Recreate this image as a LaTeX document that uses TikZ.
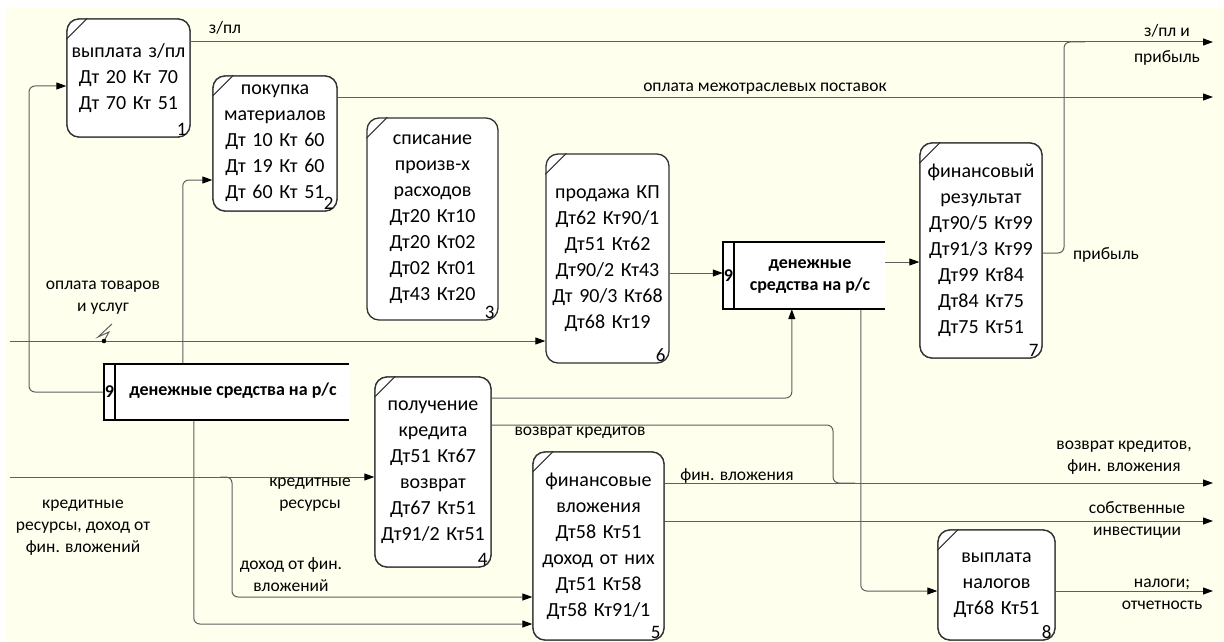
\documentclass[tikz,border=0pt]{standalone}
\usepackage{fontspec}
\setmainfont{Carlito}
\usetikzlibrary{arrows.meta,calc}
\definecolor{bgc}{RGB}{255,255,238}
\definecolor{linec}{RGB}{95,95,95}
\definecolor{boxc}{RGB}{50,50,50}
\begin{document}
\begin{tikzpicture}[x=1pt,y=-1pt,
 box/.style={draw=boxc,line width=1.3pt,rounded corners=12pt,fill=white,inner sep=0pt,align=center,font=\fontsize{20}{26}\selectfont},
 conn/.style={draw=linec,line width=1pt,rounded corners=6pt},
 arr/.style={conn,-{Triangle[length=10pt,width=7pt,color=black]}},
 lbl/.style={font=\fontsize{17.5}{22}\selectfont,align=center,inner sep=0pt},
 num/.style={font=\fontsize{19}{20}\selectfont,inner sep=0pt,anchor=south east},
 diag/.style={draw=boxc,line width=1.1pt},
 mbox/.style={draw=black,line width=1.5pt},
 mtxt/.style={font=\fontsize{18}{22}\selectfont\bfseries,align=center,inner sep=0pt}]
\useasboundingbox (0,0) rectangle (1224,642);
\fill[white] (0,0) rectangle (1224,642);
\fill[bgc] (5,7) rectangle (1224,642);

% process boxes
\node[box,text width=123pt,minimum height=118pt] (b1) at (128.5,78) {выплата з/пл\\Дт 20 Кт 70\\Дт 70 Кт 51};
\node[box,text width=124pt,minimum height=135pt] (b2) at (275,143.5) {покупка\\материалов\\Дт 10 Кт 60\\Дт 19 Кт 60\\Дт 60 Кт 51};
\node[box,text width=131pt,minimum height=202pt] (b3) at (432.5,219) {списание\\произв-х\\расходов\\Дт20 Кт10\\Дт20 Кт02\\Дт02 Кт01\\Дт43 Кт20};
\node[box,text width=123pt,minimum height=209pt] (b6) at (607.5,258.5) {продажа КП\\Дт62 Кт90/1\\Дт51 Кт62\\Дт90/2 Кт43\\Дт 90/3 Кт68\\Дт68 Кт19};
\node[box,text width=122pt,minimum height=215pt] (b7) at (981,250.5) {финансовый\\результат\\Дт90/5 Кт99\\Дт91/3 Кт99\\Дт99 Кт84\\Дт84 Кт75\\Дт75 Кт51};
\node[box,text width=116pt,minimum height=190pt] (b4) at (433,472) {получение\\кредита\\Дт51 Кт67\\возврат\\Дт67 Кт51\\Дт91/2 Кт51};
\node[box,text width=131pt,minimum height=188pt] (b5) at (598.5,546) {финансовые\\вложения\\Дт58 Кт51\\доход от них\\Дт51 Кт58\\Дт58 Кт91/1};
\node[box,text width=117pt,minimum height=110pt] (b8) at (996.5,585) {выплата\\налогов\\Дт68 Кт51};

% money boxes
\node[minimum width=245pt,minimum height=56pt,inner sep=0pt] (m1) at (226.5,392) {};
\node[minimum width=162pt,minimum height=67pt,inner sep=0pt] (m2) at (804,275.5) {};

% free ends
\coordinate (o1) at (1213,42);
\coordinate (o2) at (1213,97);
\coordinate (o3) at (1213,483);
\coordinate (o4) at (1213,521);
\coordinate (o5) at (1213,591);
\coordinate (i1) at (10,341);
\coordinate (i2) at (10,477);

% connectors
\draw[arr] (b1.east |- o1) -- (o1);
\draw[conn] (b7.east |- 0,253) -- (1064,253) -- (1064,42) -- (1085,42);
\draw[arr] (b2.east |- o2) -- (o2);
\draw[arr] (m1.west) -- (29,392) -- (29,86) -- (b1.west |- 0,86);
\draw[arr] ([xshift=79pt]m1.north west) |- (b2.west |- 0,180);
\draw[arr] (i1) -- (b6.west |- i1);
\draw[arr] (b6.east |- 0,273) -- (m2.west |- 0,273);
\draw[arr] (m2.east |- 0,262) -- (b7.west |- 0,262);
\draw[arr] (b4.east |- 0,398) -| ([xshift=69pt]m2.south west);
\draw[conn] (b4.east |- 0,425) -- (833,425) -- (833,483) -- (855,483);
\draw[arr] (b5.east |- o3) -- (o3);
\draw[arr] (b5.east |- o4) -- (o4);
\draw[arr] ([xshift=138pt]m2.south west) |- (b8.west |- o5);
\draw[arr] (b8.east |- o5) -- (o5);
\draw[arr] (i2) -- (b4.west |- i2);
\draw[arr] (220,477) -- (232,477) -- (232,597) -- (b5.west |- 0,597);
\draw[arr] ([xshift=90pt]m1.south west) |- (b5.west |- 0,624);

% redraw boxes on top of connectors
\node[box,text width=123pt,minimum height=118pt] at (b1) {выплата з/пл\\Дт 20 Кт 70\\Дт 70 Кт 51};
\node[box,text width=124pt,minimum height=135pt] at (b2) {покупка\\материалов\\Дт 10 Кт 60\\Дт 19 Кт 60\\Дт 60 Кт 51};
\node[box,text width=116pt,minimum height=190pt] at (b4) {получение\\кредита\\Дт51 Кт67\\возврат\\Дт67 Кт51\\Дт91/2 Кт51};
\node[box,text width=131pt,minimum height=188pt] at (b5) {финансовые\\вложения\\Дт58 Кт51\\доход от них\\Дт51 Кт58\\Дт58 Кт91/1};
\node[box,text width=117pt,minimum height=110pt] at (b8) {выплата\\налогов\\Дт68 Кт51};
\node[box,text width=122pt,minimum height=215pt] at (b7) {финансовый\\результат\\Дт90/5 Кт99\\Дт91/3 Кт99\\Дт99 Кт84\\Дт84 Кт75\\Дт75 Кт51};

% corner diagonals and numbers
\foreach \b/\n in {b1/1,b2/2,b3/3,b4/4,b5/5,b6/6,b7/7,b8/8}{
  \draw[diag] ($(\b.north west)+(0,21)$) -- ($(\b.north west)+(21,0)$);
  \node[num] (n\n) at ($(\b.south east)+(-4,-2)$) {\n};
}

% money box drawing
\fill[white] (m1.north west) rectangle (m1.south east);
\draw[mbox] (m1.north east) -- (m1.north west) -- (m1.south west) -- (m1.south east);
\draw[mbox] ([xshift=11pt]m1.north west) -- ([xshift=11pt]m1.south west);
\node[mtxt] (m1n) at (109.5,392) {9};
\node[mtxt] (m1t) at (233,391) {денежные средства на р/с};
\fill[white] (m2.north west) rectangle (m2.south east);
\draw[mbox] (m2.north east) -- (m2.north west) -- (m2.south west) -- (m2.south east);
\draw[mbox] ([xshift=11pt]m2.north west) -- ([xshift=11pt]m2.south west);
\node[mtxt] (m2n) at (728.5,275.5) {9};
\node[mtxt] (m2t) at (810,277) {денежные\\средства на р/с};

% labels
\node[lbl] (l1) at (225,28) {з/пл};
\node[lbl] (l2) at (765,89) {оплата межотраслевых поставок};
\node[lbl] (l3) at (1167,31) {з/пл и};
\node[lbl] (l3b) at (1167,58) {прибыль};
\node[lbl] (l4) at (1106,255) {прибыль};
\node[lbl] (l5) at (103,298) {оплата товаров\\и услуг};
\node[lbl] (l6) at (580,433) {возврат кредитов};
\node[lbl] (l7) at (737,476) {фин. вложения};
\node[lbl] (l8) at (1124,458) {возврат кредитов,\\фин. вложения};
\node[lbl] (l9) at (1137,520) {собственные\\инвестиции};
\node[lbl] (l10) at (1162,594) {налоги;\\отчетность};
\node[lbl] (l11) at (310,495) {кредитные\\ресурсы};
\node[lbl] (l12) at (291,575) {доход от фин.\\вложений};
\node[lbl] (l13) at (83,528) {кредитные\\ресурсы, доход от\\фин. вложений};

% squiggle
\draw[draw=linec,line width=1pt] (112,324) -- (98,337) -- (109,332) -- (104,341);
\fill[black] (104,341) circle (2.3pt);
\end{tikzpicture}
\end{document}
